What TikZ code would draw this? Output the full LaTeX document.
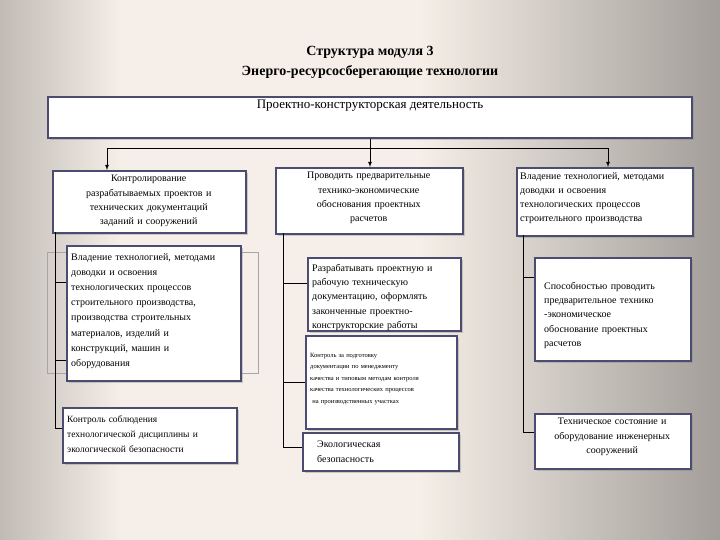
\documentclass[tikz,border=0pt]{standalone}
\usepackage{fontspec}
\setmainfont{Liberation Serif}
\usetikzlibrary{shadows,calc}
\newcommand{\bx}[7]{%
 \node[box, minimum width=#4, minimum height=#5] (#1) at (#2,#3) {};
 \node[anchor=north west, inner sep=0pt, font=\fontsize{10}{14.3}\selectfont, #6] (#1t) at ($(#1.north west)+(5,5)$) {#7};}
\begin{document}
\begin{tikzpicture}[x=1pt,y=-1pt,
 box/.style={draw=black!65!blue!40!gray, line width=1.6pt, fill=white, anchor=north west, inner sep=0pt, drop shadow={opacity=0.35,shadow xshift=2pt,shadow yshift=-2pt}},
 ln/.style={line width=0.8pt},
 arr/.style={line width=0.8pt,-latex}]
\fill[black!8!brown!12!white] (0,0) rectangle (720,540);
\shade[left color=black!30!brown!20!gray!60, right color=black!8!brown!12!white, fill opacity=0.8] (0,0) rectangle (120,540);
\shade[right color=black!45!brown!20!gray!70, left color=black!8!brown!12!white] (420,0) rectangle (720,540);
\useasboundingbox (0,0) rectangle (720,540);
\node[font=\bfseries\fontsize{14}{20}\selectfont, align=center] (title) at (370,62) {Структура модуля 3\\Энерго-ресурсосберегающие технологии};
\node[box, minimum width=644, minimum height=41, anchor=north] (top) at (370,96) {};
\node[font=\fontsize{13}{15}\selectfont] (toptext) at (370,106) {Проектно-конструкторская деятельность};
\bx{l1}{52}{170}{193}{62}{text width=183, align=center}{Контролирование\\разрабатываемых проектов и\\технических документаций\\заданий и сооружений}
\draw[draw=gray!70, line width=0.6pt] (47,252) rectangle (258,373);
\bx{l2}{66}{245}{174}{135}{text width=185, align=left, xshift=0, yshift=-3, font=\fontsize{10}{15.2}\selectfont}{Владение технологией, методами\\доводки и освоения\\технологических процессов\\строительного производства,\\производства строительных\\материалов, изделий и\\конструкций, машин и\\оборудования}
\bx{l3}{62}{407}{174}{55}{text width=170, align=left, xshift=0, yshift=-3, font=\fontsize{9.5}{15}\selectfont}{Контроль соблюдения\\технологической дисциплины и\\экологической безопасности}
\bx{m1}{275}{167}{187}{66}{text width=177, align=center}{Проводить предварительные\\технико-экономические\\обоснования проектных\\расчетов}
\bx{m2}{307}{257}{153}{73}{text width=145, align=left, yshift=-2}{Разрабатывать проектную и\\рабочую техническую\\документацию, оформлять\\законченные проектно-\\конструкторские работы}
\bx{m3}{305}{335}{151}{93}{text width=160, align=left, yshift=-13, font=\fontsize{6.5}{11.5}\selectfont}{Контроль за подготовку\\документации по менеджменту\\качества и типовым методам контроля\\качества технологических процессов\\ \ на производственных участках}
\bx{m4}{302}{432}{156}{38}{text width=140, align=left, xshift=10, yshift=-4}{Экологическая\\безопасность}
\bx{r1}{516}{167}{176}{68}{text width=178, align=left, xshift=-1}{Владение технологией, методами\\доводки и освоения\\технологических процессов\\строительного производства}
\bx{r2}{534}{257}{156}{103}{text width=150, align=left, xshift=5, yshift=-20}{Способностью проводить\\предварительное технико\\-экономическое\\обоснование проектных\\расчетов}
\bx{r3}{534}{413}{156}{55}{text width=156, align=center, xshift=-5, yshift=0}{Техническое состояние и\\оборудование инженерных\\сооружений}
% bus
\coordinate (bl) at (107,148);
\coordinate (br) at (608,148);
\draw[ln] (bl) -- (br);
\draw[arr] (bl) -- (bl |- l1.north);
\draw[arr] (br) -- (br |- r1.north);
\draw[arr] (top.south) -- (m1.north -| top.south);
% left branches
\draw[ln] (55,232) -- (55,428) -- (l3.west |- 55,428);
\draw[ln] (55,282) -- (l2.west |- 55,282);
\draw[ln] (55,360) -- (l2.west |- 55,360);
% middle
\draw[ln] (283,233) -- (283,447) -- (m4.west |- 283,447);
\draw[ln] (283,283) -- (m2.west |- 283,283);
\draw[ln] (283,382) -- (m3.west |- 283,382);
% right
\draw[ln] (523,235) -- (523,432) -- (r3.west |- 523,432);
\draw[ln] (523,277) -- (r2.west |- 523,277);
\end{tikzpicture}
\end{document}
